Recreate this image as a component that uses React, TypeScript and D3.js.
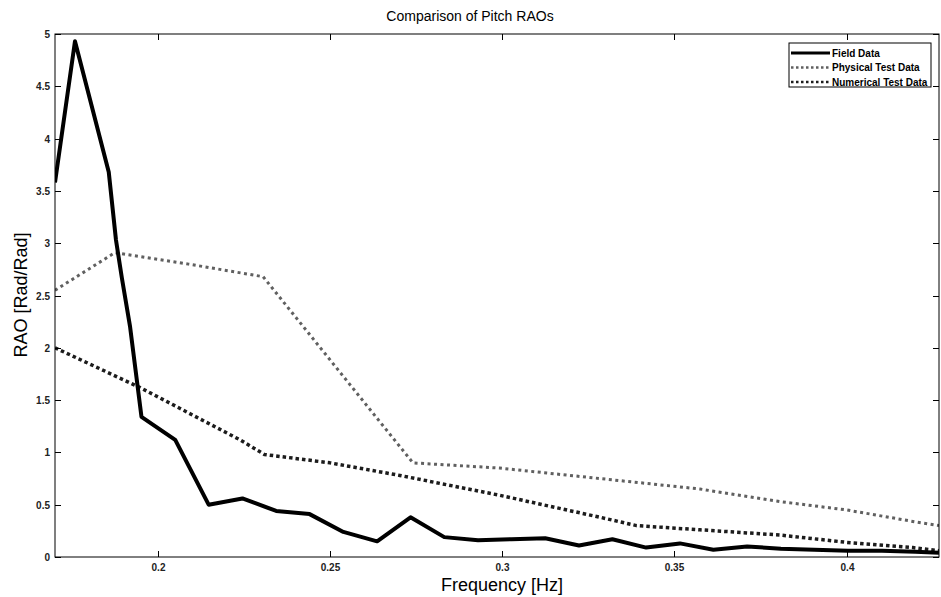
import { useRef, useEffect } from 'react'
import * as d3 from 'd3'

const W = 941
const H = 597

// Field data (frequency Hz, RAO)
const fieldFreq = [0.1702, 0.1760, 0.1858, 0.1879, 0.1896, 0.1920, 0.1953, 0.2051, 0.2148, 0.2246, 0.2344, 0.2441, 0.2539, 0.2637, 0.2734, 0.2832, 0.2930, 0.3027, 0.3125, 0.3223, 0.3320, 0.3418, 0.3516, 0.3613, 0.3711, 0.3809, 0.3906, 0.4004, 0.4102, 0.4199, 0.4268]
const fieldRao = [3.58, 4.93, 3.68, 3.03, 2.67, 2.20, 1.34, 1.12, 0.50, 0.56, 0.44, 0.41, 0.24, 0.15, 0.38, 0.19, 0.16, 0.17, 0.18, 0.11, 0.17, 0.09, 0.13, 0.07, 0.10, 0.08, 0.07, 0.06, 0.06, 0.05, 0.04]

const physFreq = [0.1702, 0.1876, 0.2090, 0.2306, 0.2741, 0.2993, 0.3284, 0.3574, 0.3806, 0.4000, 0.4192, 0.4268]
const physRao = [2.55, 2.91, 2.80, 2.68, 0.90, 0.85, 0.75, 0.65, 0.53, 0.45, 0.34, 0.30]

const numFreq = [0.1702, 0.1949, 0.2065, 0.2239, 0.2310, 0.2500, 0.2703, 0.2993, 0.3284, 0.3390, 0.3574, 0.3806, 0.4000, 0.4192, 0.4268]
const numRao = [2.00, 1.62, 1.42, 1.12, 0.98, 0.90, 0.78, 0.59, 0.38, 0.30, 0.26, 0.21, 0.14, 0.09, 0.06]

const xTicks = [0.2, 0.25, 0.3, 0.35, 0.4]
const yTicks = [0, 0.5, 1, 1.5, 2, 2.5, 3, 3.5, 4, 4.5, 5]

const seriesNames = ['Field Data', 'Physical Test Data', 'Numerical Test Data']

const STYLES = [
  { stroke: '#000', width: 4, dash: null },
  { stroke: '#606060', width: 3, dash: '3 3.5' },
  { stroke: '#1c1c1c', width: 3.5, dash: '3.5 3' },
]

const FONT = 'Liberation Sans, Arial, Helvetica, sans-serif'

export default function App() {
  const svgRef = useRef<SVGSVGElement | null>(null)

  useEffect(() => {
    if (!svgRef.current) return
    const el = svgRef.current
    d3.select(el).selectAll('*').remove()
    const svg = d3.select(el).attr('width', W).attr('height', H)

    const m = { left: 55, top: 34, right: 939, bottom: 557 }
    const x = d3.scaleLinear().domain([0.1702, 0.4268]).range([m.left, m.right])
    const y = d3.scaleLinear().domain([0, 5]).range([m.bottom, m.top])

    svg.append('rect').attr('width', W).attr('height', H).attr('fill', '#fff')

    svg.append('clipPath').attr('id', 'plotclip')
      .append('rect')
      .attr('x', m.left).attr('y', m.top)
      .attr('width', m.right - m.left).attr('height', m.bottom - m.top)

    // lines
    const datasets = [
      d3.zip(fieldFreq, fieldRao),
      d3.zip(physFreq, physRao),
      d3.zip(numFreq, numRao),
    ]
    const line = d3.line<number[]>().x(d => x(d[0])).y(d => y(d[1]))
    const lg = svg.append('g').attr('clip-path', 'url(#plotclip)')
    // dotted ones first so the solid line sits on top
    ;[1, 2, 0].forEach(i => {
      const s = STYLES[i]
      lg.append('path')
        .attr('d', line(datasets[i]))
        .attr('fill', 'none')
        .attr('stroke', s.stroke)
        .attr('stroke-width', s.width)
        .attr('stroke-dasharray', s.dash)
        .attr('stroke-linejoin', 'round')
    })

    // frame
    svg.append('rect')
      .attr('x', m.left).attr('y', m.top)
      .attr('width', m.right - m.left).attr('height', m.bottom - m.top)
      .attr('fill', 'none').attr('stroke', '#000').attr('stroke-width', 1)

    const tl = 6
    // x ticks (inside, top and bottom)
    xTicks.forEach(t => {
      const px = Math.round(x(t)) + 0.5
      svg.append('line').attr('x1', px).attr('x2', px).attr('y1', m.bottom).attr('y2', m.bottom - tl).attr('stroke', '#000')
      svg.append('line').attr('x1', px).attr('x2', px).attr('y1', m.top).attr('y2', m.top + tl).attr('stroke', '#000')
      svg.append('text')
        .attr('x', px).attr('y', m.bottom + 14)
        .attr('text-anchor', 'middle')
        .attr('font-size', 10).attr('font-weight', 'bold').attr('font-family', FONT).attr('fill', '#222')
        .text(String(t))
    })
    // y ticks
    yTicks.forEach(t => {
      const py = Math.round(y(t)) + 0.5
      svg.append('line').attr('x1', m.left).attr('x2', m.left + tl).attr('y1', py).attr('y2', py).attr('stroke', '#000')
      svg.append('line').attr('x1', m.right).attr('x2', m.right - tl).attr('y1', py).attr('y2', py).attr('stroke', '#000')
      svg.append('text')
        .attr('x', m.left - 5).attr('y', py + 3.5)
        .attr('text-anchor', 'end')
        .attr('font-size', 10).attr('font-weight', 'bold').attr('font-family', FONT).attr('fill', '#222')
        .text(String(t))
    })

    // title and axis labels
    svg.append('text')
      .attr('x', 470).attr('y', 21)
      .attr('text-anchor', 'middle')
      .attr('font-size', 14).attr('font-family', FONT).attr('fill', '#000')
      .text('Comparison of Pitch RAOs')
    svg.append('text')
      .attr('x', 502).attr('y', 591)
      .attr('text-anchor', 'middle')
      .attr('font-size', 18).attr('font-family', FONT).attr('fill', '#000')
      .text('Frequency [Hz]')
    svg.append('text')
      .attr('transform', `translate(27,295) rotate(-90)`)
      .attr('text-anchor', 'middle')
      .attr('font-size', 18).attr('font-family', FONT).attr('fill', '#000')
      .text('RAO [Rad/Rad]')

    // legend
    const lgX = 789, lgY = 43
    const leg = svg.append('g')
    leg.append('rect')
      .attr('x', lgX).attr('y', lgY).attr('width', 142).attr('height', 44)
      .attr('fill', '#fff').attr('stroke', '#000').attr('stroke-width', 1)
    seriesNames.forEach((name, i) => {
      const s = STYLES[i]
      const ly = lgY + 10 + i * 14.5
      leg.append('line')
        .attr('x1', lgX + 2).attr('x2', lgX + 41)
        .attr('y1', ly).attr('y2', ly)
        .attr('stroke', s.stroke)
        .attr('stroke-width', i === 0 ? 3 : 2.5)
        .attr('stroke-dasharray', s.dash ? '2.5 2.5' : null)
      leg.append('text')
        .attr('x', lgX + 43).attr('y', ly + 3.5)
        .attr('font-size', 10).attr('font-weight', 'bold').attr('font-family', FONT).attr('fill', '#000')
        .text(name)
    })
  }, [])

  return (
    <div style={{ position: 'fixed', left: 0, top: 0, width: W, height: H }}>
      <svg ref={svgRef} style={{ display: 'block' }} />
    </div>
  )
}
